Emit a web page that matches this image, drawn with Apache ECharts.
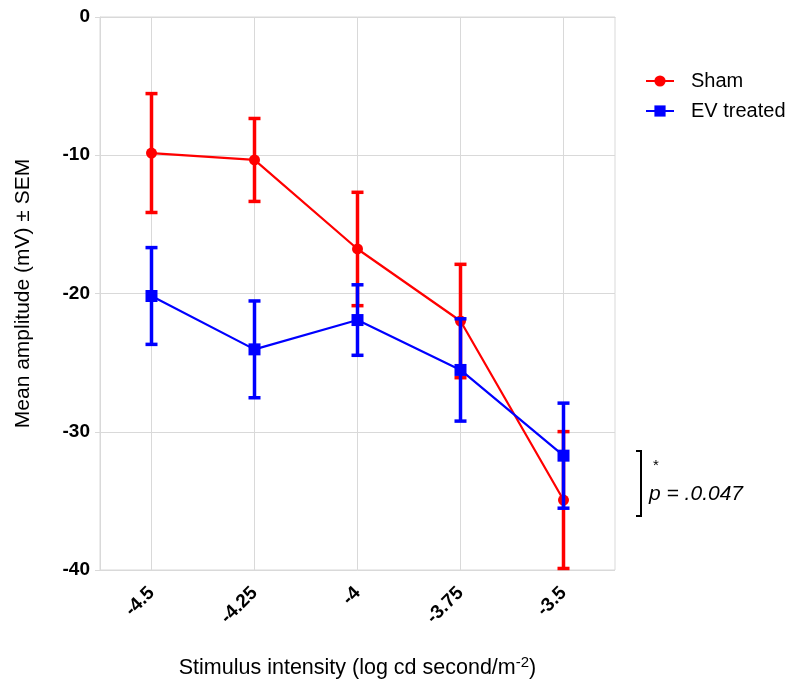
<!DOCTYPE html>
<html>
<head>
<meta charset="utf-8">
<script src="https://cdn.jsdelivr.net/npm/echarts@6/dist/echarts.min.js"></script>
<style>
  html, body { margin: 0; padding: 0; background: #fff; }
  #chart { width: 792px; height: 686px; }
</style>
</head>
<body>
<div id="chart"></div>
<script>
// Stimulus intensities (log cd s/m^-2)
const categories = ['-4.5', '-4.25', '-4', '-3.75', '-3.5'];
// Mean amplitude (mV) and SEM per group
const shamMean = [-9.84, -10.34, -16.78, -21.99, -34.94];
const shamSem  = [4.3, 3.0, 4.1, 4.1, 4.95];
const evMean   = [-20.18, -24.04, -21.92, -25.53, -31.73];
const evSem    = [3.5, 3.5, 2.55, 3.7, 3.8];
const yTicks   = { min: -40, max: 0, step: 10 };

const RED = '#ff0000';
const BLUE = '#0000ff';
const GRID_C = '#d9d9d9';
const FONT = 'Liberation Sans, Arial, sans-serif';

function errorData(mean, sem) {
  return mean.map((m, i) => [i, m - sem[i], m + sem[i]]);
}

function errorBarSeries(name, mean, sem, color, z) {
  return {
    name: name + ' SEM',
    type: 'custom',
    z: z,
    silent: true,
    data: errorData(mean, sem),
    renderItem: function (params, api) {
      const x = api.value(0);
      const lo = api.coord([x, api.value(1)]);
      const hi = api.coord([x, api.value(2)]);
      const cap = 6;
      const style = { stroke: color, lineWidth: 3.5, fill: null };
      return {
        type: 'group',
        children: [
          { type: 'line', shape: { x1: lo[0], y1: lo[1], x2: hi[0], y2: hi[1] }, style: style },
          { type: 'line', shape: { x1: lo[0] - cap, y1: lo[1], x2: lo[0] + cap, y2: lo[1] }, style: style },
          { type: 'line', shape: { x1: hi[0] - cap, y1: hi[1], x2: hi[0] + cap, y2: hi[1] }, style: style }
        ]
      };
    }
  };
}

const chart = echarts.init(document.getElementById('chart'), null, { renderer: 'canvas' });

chart.setOption({
  animation: false,
  backgroundColor: '#fff',
  textStyle: { fontFamily: FONT },
  grid: {
    left: 100, top: 17, width: 515, height: 553,
    show: true, borderColor: GRID_C, borderWidth: 1, backgroundColor: 'transparent'
  },
  legend: {
    data: ['Sham', 'EV treated'],
    orient: 'vertical',
    left: 645, top: 71,
    padding: 0,
    itemWidth: 28, itemHeight: 14, itemGap: 10,
    textStyle: { fontSize: 20, color: '#000', fontFamily: FONT, padding: [0, 0, 0, 12] }
  },
  xAxis: {
    type: 'category',
    data: categories,
    boundaryGap: true,
    name: '{t|Stimulus intensity (log cd second/m}{s|-2}{t|)}',
    nameLocation: 'middle',
    nameGap: 85,
    nameTextStyle: {
      rich: {
        t: { fontSize: 21.5, color: '#000', fontFamily: FONT },
        s: { fontSize: 15, color: '#000', fontFamily: FONT, verticalAlign: 'top', padding: [0, 0, 12, 0] }
      }
    },
    axisLine: { show: true, lineStyle: { color: GRID_C, width: 1 } },
    axisTick: { show: true, alignWithLabel: true, length: 5, lineStyle: { color: GRID_C } },
    axisLabel: {
      rotate: 45, margin: 20, fontSize: 19, fontWeight: 'bold', color: '#000', fontFamily: FONT
    },
    splitLine: { show: false }
  },
  yAxis: {
    type: 'value',
    min: yTicks.min, max: yTicks.max, interval: yTicks.step,
    name: 'Mean amplitude (mV) ± SEM',
    nameLocation: 'middle',
    nameGap: 66,
    nameTextStyle: { fontSize: 21, color: '#000', fontFamily: FONT },
    axisLine: { show: true, lineStyle: { color: GRID_C, width: 1 } },
    axisTick: { show: true, length: 5, lineStyle: { color: GRID_C } },
    axisLabel: { fontSize: 19, fontWeight: 'bold', color: '#000', margin: 10, fontFamily: FONT },
    splitLine: { show: true, lineStyle: { color: GRID_C, width: 1 } }
  },
  series: [
    {
      // vertical gridlines at each stimulus intensity
      name: 'grid',
      type: 'line',
      data: [],
      z: 1,
      silent: true,
      markLine: {
        z: 1,
        silent: true,
        symbol: 'none',
        label: { show: false },
        lineStyle: { color: GRID_C, width: 1, type: 'solid' },
        data: categories.map(c => ({ xAxis: c }))
      }
    },
    errorBarSeries('Sham', shamMean, shamSem, RED, 3),
    {
      name: 'Sham',
      type: 'line',
      z: 4,
      data: shamMean,
      symbol: 'circle',
      symbolSize: 11,
      itemStyle: { color: RED },
      lineStyle: { color: RED, width: 2.2 }
    },
    errorBarSeries('EV treated', evMean, evSem, BLUE, 5),
    {
      name: 'EV treated',
      type: 'line',
      z: 6,
      data: evMean,
      symbol: 'rect',
      symbolSize: 12,
      itemStyle: { color: BLUE },
      lineStyle: { color: BLUE, width: 2.2 }
    }
  ],
  graphic: [
    {
      type: 'polyline',
      shape: { points: [[636, 451], [641, 451], [641, 516], [636, 516]] },
      style: { stroke: '#000', lineWidth: 2, fill: null }
    },
    {
      type: 'text',
      left: 653, top: 458,
      style: { text: '*', fontSize: 15, fill: '#000', fontFamily: FONT }
    },
    {
      type: 'text',
      left: 649, top: 484,
      style: { text: 'p = .0.047', fontSize: 21, fontStyle: 'italic', fill: '#000', fontFamily: FONT }
    }
  ]
});
</script>
</body>
</html>
